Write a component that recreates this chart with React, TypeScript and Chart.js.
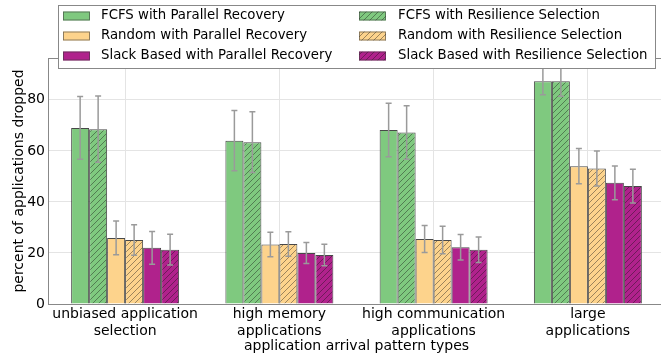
import React, { useEffect, useRef } from "react";
import { Chart, registerables } from "chart.js";

Chart.register(...registerables);

const categories: string[][] = [
  ["unbiased application", "selection"],
  ["high memory", "applications"],
  ["high communication", "applications"],
  ["large", "applications"],
];

const seriesNames = [
  "FCFS with Parallel Recovery",
  "FCFS with Resilience Selection",
  "Random with Parallel Recovery",
  "Random with Resilience Selection",
  "Slack Based with Parallel Recovery",
  "Slack Based with Resilience Selection",
];

const fcfsParallel = [69.0, 64.0, 68.2, 87.3];
const fcfsResilience = [68.5, 63.4, 67.2, 87.3];
const randomParallel = [25.9, 23.3, 25.5, 54.0];
const randomResilience = [25.1, 23.5, 25.1, 53.1];
const slackParallel = [22.0, 20.0, 22.2, 47.5];
const slackResilience = [21.3, 19.2, 21.3, 46.2];

const fcfsParallelErr = [12.3, 11.8, 10.5, 5.3];
const fcfsResilienceErr = [13.0, 11.9, 10.5, 5.9];
const randomParallelErr = [6.6, 4.8, 5.3, 6.9];
const randomResilienceErr = [6.0, 4.8, 5.4, 6.9];
const slackParallelErr = [6.4, 4.1, 5.0, 6.6];
const slackResilienceErr = [6.0, 4.2, 5.0, 6.6];

const yTicks = [0, 20, 40, 60, 80];
const yMax = 96.4;

const GREEN = "#7fc97f";
const ORANGE = "#fdd38c";
const PURPLE = "#b0228c";
const FONT = "'DejaVu Sans', sans-serif";

function makeHatch(ctx: CanvasRenderingContext2D, color: string): CanvasPattern {
  const s = 6;
  const c = document.createElement("canvas");
  c.width = s;
  c.height = s;
  const g = c.getContext("2d")!;
  g.fillStyle = color;
  g.fillRect(0, 0, s, s);
  g.strokeStyle = "rgba(20,20,20,0.6)";
  g.lineWidth = 0.7;
  g.beginPath();
  g.moveTo(-1, s + 1);
  g.lineTo(s + 1, -1);
  g.moveTo(-2, 2);
  g.lineTo(2, -2);
  g.moveTo(s - 2, s + 2);
  g.lineTo(s + 2, s - 2);
  g.stroke();
  return ctx.createPattern(c, "repeat")!;
}

export default function App() {
  const ref = useRef<HTMLCanvasElement | null>(null);

  useEffect(() => {
    const canvas = ref.current!;
    const ctx = canvas.getContext("2d")!;
    const values = [fcfsParallel, fcfsResilience, randomParallel, randomResilience, slackParallel, slackResilience];
    const errs = [fcfsParallelErr, fcfsResilienceErr, randomParallelErr, randomResilienceErr, slackParallelErr, slackResilienceErr];
    const colors = [GREEN, GREEN, ORANGE, ORANGE, PURPLE, PURPLE];
    const fills = colors.map((c, i) => (i % 2 === 1 ? makeHatch(ctx, c) : c));

    const errorBars = {
      id: "errorBars",
      afterDatasetsDraw(chart: any) {
        const y = chart.scales.y;
        const c = chart.ctx;
        c.save();
        c.strokeStyle = "#9a9a9a";
        c.lineWidth = 1.5;
        values.forEach((vals, i) => {
          const meta = chart.getDatasetMeta(i);
          vals.forEach((v, j) => {
            const el = meta.data[j];
            const x = el.x;
            const top = y.getPixelForValue(v + errs[i][j]);
            const bot = y.getPixelForValue(v - errs[i][j]);
            c.beginPath();
            c.moveTo(x, top);
            c.lineTo(x, bot);
            c.moveTo(x - 3, top);
            c.lineTo(x + 3, top);
            c.moveTo(x - 3, bot);
            c.lineTo(x + 3, bot);
            c.stroke();
          });
        });
        c.restore();
      },
    };

    const frameAndLegend = {
      id: "frameAndLegend",
      afterDraw(chart: any) {
        const c = chart.ctx;
        const a = chart.chartArea;
        c.save();
        c.strokeStyle = "#888888";
        c.lineWidth = 1;
        c.beginPath();
        c.moveTo(a.left, Math.round(a.top) + 0.5);
        c.lineTo(a.right, Math.round(a.top) + 0.5);
        c.stroke();

        // legend
        const bx = 58.5, by = 5.5, bw = 597, bh = 63;
        c.fillStyle = "#ffffff";
        c.fillRect(bx, by, bw, bh);
        c.strokeStyle = "#888888";
        c.strokeRect(bx, by, bw, bh);
        const rows = [16, 36, 56];
        const colSwatch = [63, 359];
        const colText = [101, 398];
        c.font = "13.3px " + FONT;
        c.textBaseline = "middle";
        c.textAlign = "left";
        chart.data.datasets.forEach((ds: any, i: number) => {
          const col = i % 2;
          const row = Math.floor(i / 2);
          const yC = rows[row];
          c.fillStyle = ds.backgroundColor;
          c.fillRect(colSwatch[col], yC - 4.5, 27, 9);
          c.strokeStyle = "rgba(60,60,60,0.7)";
          c.lineWidth = 0.8;
          c.strokeRect(colSwatch[col] + 0.5, yC - 4.5 + 0.5, 26, 8);
          c.fillStyle = "#000000";
          c.fillText(ds.label, colText[col], yC);
        });
        c.restore();
      },
    };

    const chart = new Chart(canvas, {
      type: "bar",
      data: {
        labels: categories,
        datasets: seriesNames.map((name, i) => ({
          label: name,
          data: values[i],
          backgroundColor: fills[i] as any,
          borderColor: "rgba(40,40,40,0.85)",
          borderWidth: 1,
          categoryPercentage: 0.7,
          barPercentage: 1.0,
        })),
      },
      options: {
        responsive: false,
        animation: false,
        devicePixelRatio: 1,
        layout: { padding: { top: 58, right: 15, left: 0, bottom: 0 }, autoPadding: false } as any,
        plugins: {
          legend: { display: false },
          tooltip: { enabled: false },
        },
        scales: {
          x: {
            type: "category",
            offset: true,
            grid: { offset: false, color: "#e4e4e4", drawTicks: false, lineWidth: 1 },
            border: { color: "#888888", width: 1 },
            ticks: {
              font: { family: FONT, size: 14 },
              color: "#000000",
              padding: 2,
              maxRotation: 0,
              autoSkip: false,
            },
            title: {
              display: true,
              text: "application arrival pattern types",
              font: { family: FONT, size: 14 },
              color: "#000000",
              padding: { top: 0, bottom: 3 },
            },
            afterFit(s: any) {
              s.height = 54;
            },
          },
          y: {
            type: "linear",
            min: 0,
            max: yMax,
            grid: { color: "#e4e4e4", drawTicks: false, lineWidth: 1 },
            border: { color: "#888888", width: 1 },
            afterBuildTicks(s: any) {
              s.ticks = yTicks.map((v) => ({ value: v }));
            },
            ticks: {
              font: { family: FONT, size: 14 },
              color: "#000000",
              padding: 3,
              includeBounds: false,
            },
            title: {
              display: true,
              text: "percent of applications dropped",
              font: { family: FONT, size: 14 },
              color: "#000000",
              padding: { top: 11, bottom: 0 },
            },
            afterFit(s: any) {
              s.width = 48;
            },
          },
        },
      },
      plugins: [errorBars, frameAndLegend],
    } as any);
    return () => chart.destroy();
  }, []);

  return (
    <div
      style={{
        position: "fixed",
        left: 0,
        top: 0,
        width: 661,
        height: 353,
        overflow: "hidden",
        background: "#ffffff",
      }}
    >
      <canvas ref={ref} width={680} height={358} style={{ display: "block", width: 680, height: 358 }} />
    </div>
  );
}
